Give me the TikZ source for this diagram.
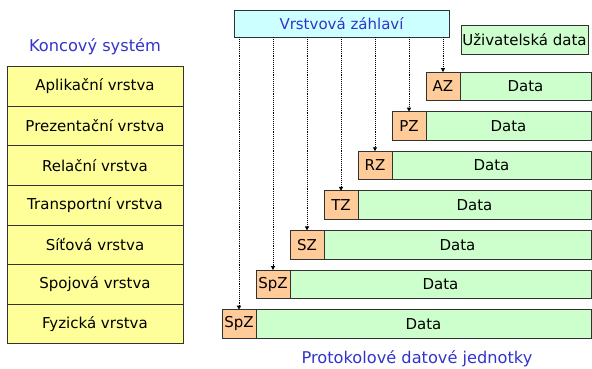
\documentclass[tikz,border=0pt]{standalone}
\usepackage{fontspec}
\setmainfont{DejaVu Sans}
\usetikzlibrary{arrows.meta}
\usetikzlibrary{positioning}
\definecolor{layeryellow}{RGB}{255, 255, 153}
\definecolor{hdrorange}{RGB}{255, 204, 153}
\definecolor{datagreen}{RGB}{204, 255, 204}
\definecolor{hdrcyan}{RGB}{204, 255, 255}
\definecolor{titleblue}{RGB}{51, 51, 204}
\definecolor{frame}{RGB}{50, 50, 50}

\tikzset{
    txt/.style={font=\fontsize{15}{17}\selectfont},
    bluetxt/.style={font=\fontsize{16.2}{18}\selectfont, text=titleblue},
    layer/.style={txt, draw=frame, line width=0.8pt, fill=layeryellow, outer sep=0pt,
        minimum width=176, minimum height=39.6, inner sep=0pt},
    hdr/.style={txt, draw=frame, line width=0.8pt, fill=hdrorange, outer sep=0pt,
        minimum width=34, minimum height=28.5, inner sep=0pt},
    pdu/.style={txt, draw=frame, line width=0.8pt, fill=datagreen, outer sep=0pt,
        minimum height=28.5, inner sep=0pt},
    ptr/.style={densely dotted, line width=0.9pt, -{Triangle[length=4pt,width=4pt]}}
}

\begin{document}
\begin{tikzpicture}[x=1pt,y=-1pt]
                \useasboundingbox (0,0) rectangle (592,368);

                % koncovy system
                \node[bluetxt] (endsys) at (95,47) {Koncový systém};
                \node[layer] (app) at (95,86.3) {Aplikační vrstva};
                \node[layer, below=0pt of app] (pres) {Prezentační vrstva};
                \node[layer, below=0pt of pres] (sess) {Relační vrstva};
                \node[layer, below=0pt of sess] (trans) {Transportní vrstva};
                \node[layer, below=0pt of trans] (net) {Síťová vrstva};
                \node[layer, below=0pt of net] (link) {Spojová vrstva};
                \node[layer, below=0pt of link] (phys) {Fyzická vrstva};

                % zahlavi a uzivatelska data
                \node[txt, draw=frame, line width=0.8pt, fill=hdrcyan, text=titleblue,
                    minimum width=215, minimum height=27, inner sep=0pt] (hdrs) at (341.5,23.5) {Vrstvová záhlaví};
                \node[txt, draw=frame, line width=0.8pt, fill=datagreen,
                    minimum width=127, minimum height=29, inner sep=0pt] (udata) at (524.5,39.5) {Uživatelská data};

                % protokolove datove jednotky
                \node[hdr] (azh) at (443,86.3) {AZ};
                \node[pdu, right=0pt of azh, minimum width=131] (azd) {Data};
                \node[hdr] (pzh) at (409,125.9) {PZ};
                \node[pdu, right=0pt of pzh, minimum width=165] (pzd) {Data};
                \node[hdr] (rzh) at (375,165.5) {RZ};
                \node[pdu, right=0pt of rzh, minimum width=199] (rzd) {Data};
                \node[hdr] (tzh) at (341,205.1) {TZ};
                \node[pdu, right=0pt of tzh, minimum width=233] (tzd) {Data};
                \node[hdr] (szh) at (307,244.7) {SZ};
                \node[pdu, right=0pt of szh, minimum width=267] (szd) {Data};
                \node[hdr] (spzh) at (273,284.3) {SpZ};
                \node[pdu, right=0pt of spzh, minimum width=301] (spzd) {Data};
                \node[hdr] (fzh) at (239,323.9) {SpZ};
                \node[pdu, right=0pt of fzh, minimum width=335] (fzd) {Data};

                \node[bluetxt] (pdus) at (417,359) {Protokolové datové jednotky};

                \draw[ptr] (hdrs.south -| azh.north) -- (azh.north);
                \draw[ptr] (hdrs.south -| pzh.north) -- (pzh.north);
                \draw[ptr] (hdrs.south -| rzh.north) -- (rzh.north);
                \draw[ptr] (hdrs.south -| tzh.north) -- (tzh.north);
                \draw[ptr] (hdrs.south -| szh.north) -- (szh.north);
                \draw[ptr] (hdrs.south -| spzh.north) -- (spzh.north);
                \draw[ptr] (hdrs.south -| fzh.north) -- (fzh.north);
            \end{tikzpicture}
\end{document}
